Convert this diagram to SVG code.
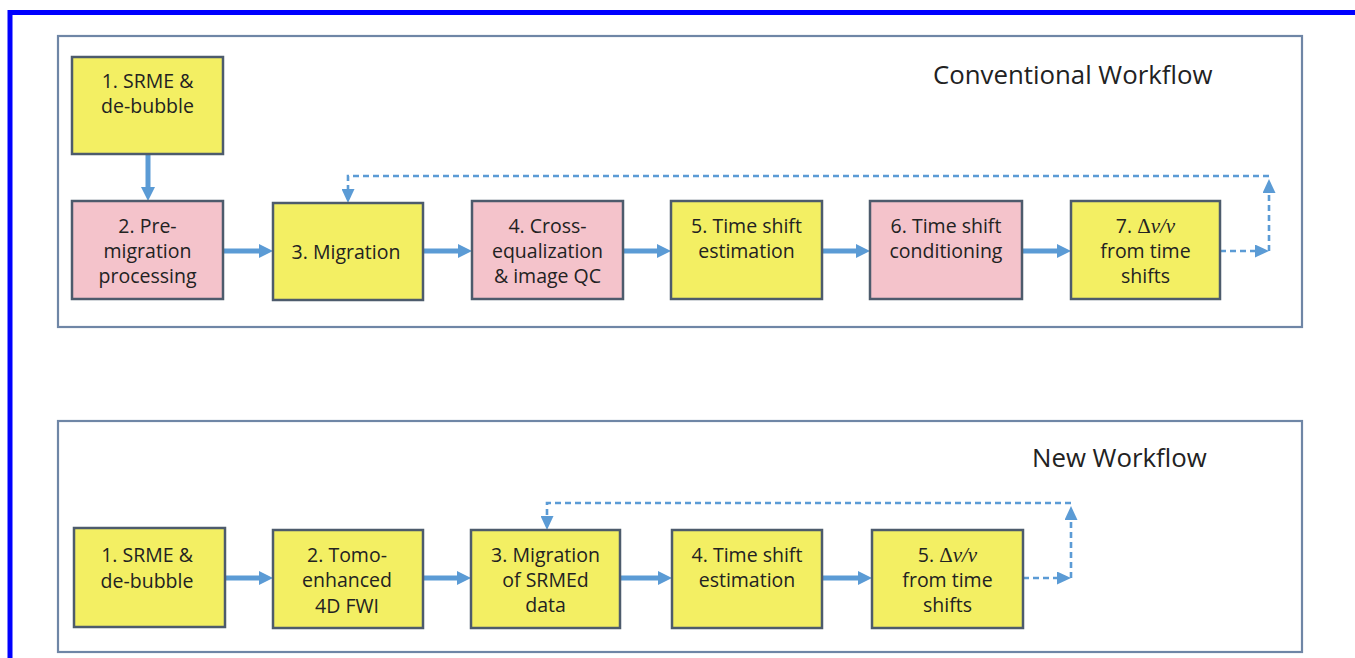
<svg xmlns="http://www.w3.org/2000/svg" width="1355" height="658" viewBox="0 0 1355 658">
<defs>
<style>
.panel{fill:#ffffff;stroke:#6f86a6;stroke-width:2.2}
.y{fill:#f3ef63;stroke:#4d5b6c;stroke-width:2.5}
.p{fill:#f4c3cb;stroke:#4d5b6c;stroke-width:2.5}
.t{font-family:"Open Sans","Liberation Sans",sans-serif;font-size:19.5px;fill:#222222;text-anchor:middle}
.ttl{font-family:"Open Sans","Liberation Sans",sans-serif;font-size:25.8px;fill:#222222}
.m{font-family:"Liberation Serif",serif;font-style:italic}
.sol{fill:none;stroke:#5b9bd5;stroke-width:5}
.dash{fill:none;stroke:#5b9bd5;stroke-width:2.6;stroke-dasharray:6 4}
</style>
<marker id="ah" viewBox="0 0 10 10" refX="0" refY="5" markerWidth="14" markerHeight="14" markerUnits="userSpaceOnUse" orient="auto">
<path d="M0,0 L10,5 L0,10 z" fill="#5b9bd5"/>
</marker>
<marker id="ahd" viewBox="0 0 10 10" refX="0" refY="5" markerWidth="14" markerHeight="13" markerUnits="userSpaceOnUse" orient="auto" preserveAspectRatio="none">
<path d="M0,0 L10,5 L0,10 z" fill="#5b9bd5"/>
</marker>
</defs>
<rect x="0" y="0" width="1355" height="658" fill="#ffffff"/>
<rect x="10" y="12.5" width="1360" height="660" fill="none" stroke="#0000ff" stroke-width="5"/>

<g id="panel-conventional">
<rect class="panel" x="58" y="36" width="1244" height="291"/>
<text class="ttl" x="933" y="84">Conventional Workflow</text>
</g>
<g id="panel-new">
<rect class="panel" x="58" y="421" width="1244" height="231"/>
<text class="ttl" x="1032" y="467">New Workflow</text>
</g>

<g id="connectors">
<path class="sol" d="M148,154 V187" marker-end="url(#ah)"/>
<path class="sol" d="M223,251 H259" marker-end="url(#ah)"/>
<path class="sol" d="M423,251 H458" marker-end="url(#ah)"/>
<path class="sol" d="M623,251 H657" marker-end="url(#ah)"/>
<path class="sol" d="M822,251 H856" marker-end="url(#ah)"/>
<path class="sol" d="M1022,251 H1057" marker-end="url(#ah)"/>
<path class="dash" d="M1220,251 H1255" marker-end="url(#ahd)"/>
<path class="dash" d="M1269,251 V193" marker-end="url(#ahd)"/>
<path class="dash" d="M1269,176 H348 V189" marker-end="url(#ahd)"/>

<path class="sol" d="M225,578 H259" marker-end="url(#ah)"/>
<path class="sol" d="M423,578 H457" marker-end="url(#ah)"/>
<path class="sol" d="M620,578 H658" marker-end="url(#ah)"/>
<path class="sol" d="M822,578 H858" marker-end="url(#ah)"/>
<path class="dash" d="M1023,578 H1057" marker-end="url(#ahd)"/>
<path class="dash" d="M1071,578 V520" marker-end="url(#ahd)"/>
<path class="dash" d="M1071,503 H547 V516" marker-end="url(#ahd)"/>
</g>

<g id="c1">
<rect class="y" x="72" y="57" width="151" height="97"/>
<text class="t" x="147.5" y="88">1. SRME &amp;</text>
<text class="t" x="147.5" y="113">de-bubble</text>
</g>
<g id="c2">
<rect class="p" x="72" y="201" width="151" height="98"/>
<text class="t" x="147.5" y="233">2. Pre-</text>
<text class="t" x="147.5" y="258">migration</text>
<text class="t" x="147.5" y="283">processing</text>
</g>
<g id="c3">
<rect class="y" x="273" y="203" width="150" height="97"/>
<text class="t" x="346" y="259">3. Migration</text>
</g>
<g id="c4">
<rect class="p" x="472" y="201" width="151" height="98"/>
<text class="t" x="547.5" y="233">4. Cross-</text>
<text class="t" x="547.5" y="258">equalization</text>
<text class="t" x="547.5" y="283">&amp; image QC</text>
</g>
<g id="c5">
<rect class="y" x="671" y="201" width="151" height="98"/>
<text class="t" x="746.5" y="233">5. Time shift</text>
<text class="t" x="746.5" y="258">estimation</text>
</g>
<g id="c6">
<rect class="p" x="870" y="201" width="152" height="98"/>
<text class="t" x="946" y="233">6. Time shift</text>
<text class="t" x="946" y="258">conditioning</text>
</g>
<g id="c7">
<rect class="y" x="1071" y="201" width="149" height="98"/>
<text class="t" x="1145.5" y="233">7. <tspan font-family="Liberation Serif, serif" font-size="21">Δ</tspan><tspan class="m" font-size="21">v/v</tspan></text>
<text class="t" x="1145.5" y="258">from time</text>
<text class="t" x="1145.5" y="283">shifts</text>
</g>

<g id="n1">
<rect class="y" x="74" y="528" width="151" height="99"/>
<text class="t" x="147" y="562">1. SRME &amp;</text>
<text class="t" x="147" y="588">de-bubble</text>
</g>
<g id="n2">
<rect class="y" x="273" y="530" width="150" height="98"/>
<text class="t" x="347" y="562">2. Tomo-</text>
<text class="t" x="347" y="587">enhanced</text>
<text class="t" x="347" y="613">4D FWI</text>
</g>
<g id="n3">
<rect class="y" x="471" y="530" width="149" height="98"/>
<text class="t" x="545.5" y="562">3. Migration</text>
<text class="t" x="545.5" y="587">of SRMEd</text>
<text class="t" x="545.5" y="612">data</text>
</g>
<g id="n4">
<rect class="y" x="672" y="530" width="150" height="98"/>
<text class="t" x="747" y="562">4. Time shift</text>
<text class="t" x="747" y="587">estimation</text>
</g>
<g id="n5">
<rect class="y" x="872" y="530" width="151" height="98"/>
<text class="t" x="947.5" y="562">5. <tspan font-family="Liberation Serif, serif" font-size="21">Δ</tspan><tspan class="m" font-size="21">v/v</tspan></text>
<text class="t" x="947.5" y="587">from time</text>
<text class="t" x="947.5" y="612">shifts</text>
</g>
</svg>
